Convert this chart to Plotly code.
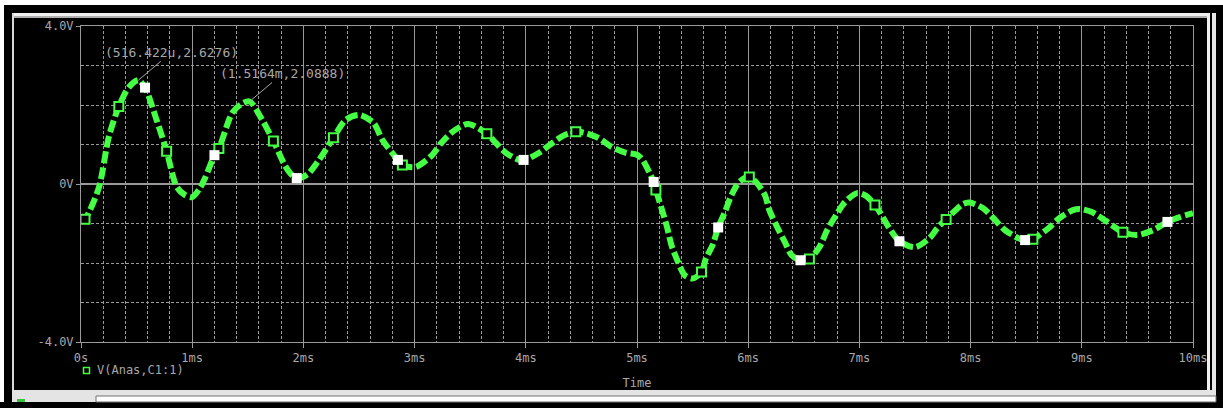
import plotly.graph_objects as go

# ---------------- data (time in ms, voltage in V) ----------------
t_ms = [0.0, 0.036, 0.16, 0.25, 0.34, 0.43, 0.516, 0.576, 0.68, 0.77, 0.86, 0.93, 1.00, 1.07,
        1.12, 1.20, 1.24, 1.36, 1.44, 1.516, 1.63, 1.73, 1.84, 1.90, 1.96, 2.04, 2.14, 2.27,
        2.38, 2.50, 2.63, 2.71, 2.85, 2.89, 3.01, 3.16, 3.24, 3.34, 3.48, 3.65, 3.73, 3.82,
        3.94, 4.00, 4.12, 4.23, 4.35, 4.48, 4.65, 4.77, 4.90, 5.00, 5.05, 5.11, 5.15, 5.17,
        5.22, 5.27, 5.31, 5.37, 5.43, 5.50, 5.58, 5.62, 5.68, 5.73, 5.79, 5.85, 5.92, 6.01,
        6.07, 6.15, 6.19, 6.26, 6.33, 6.39, 6.47, 6.55, 6.64, 6.71, 6.79, 6.87, 6.98, 7.06,
        7.14, 7.20, 7.27, 7.36, 7.50, 7.63, 7.70, 7.78, 7.93, 7.99, 8.11, 8.22, 8.31, 8.50,
        8.56, 8.70, 8.80, 8.92, 8.98, 9.09, 9.22, 9.37, 9.50, 9.64, 9.77, 9.88, 10.0]
v_volts = [-0.95, -0.89, -0.10, 1.19, 1.96, 2.45, 2.6276, 2.44, 1.62, 0.83, -0.07, -0.27, -0.33, -0.10,
           0.18, 0.73, 0.90, 1.80, 2.02, 2.0888, 1.62, 1.09, 0.44, 0.22, 0.15, 0.25, 0.61, 1.17,
           1.62, 1.75, 1.55, 1.12, 0.61, 0.48, 0.43, 0.74, 1.04, 1.32, 1.52, 1.27, 1.04, 0.79,
           0.61, 0.62, 0.79, 1.02, 1.24, 1.32, 1.17, 0.94, 0.79, 0.74, 0.61, 0.30, 0.05, -0.15,
           -0.61, -1.09, -1.55, -1.98, -2.31, -2.39, -2.23, -1.88, -1.55, -1.10, -0.71, -0.28, 0.05, 0.18,
           0.05, -0.28, -0.66, -1.09, -1.47, -1.80, -1.93, -1.90, -1.60, -1.17, -0.79, -0.46, -0.23, -0.30,
           -0.53, -0.79, -1.12, -1.45, -1.60, -1.37, -1.12, -0.89, -0.51, -0.47, -0.61, -0.91, -1.17, -1.45,
           -1.40, -1.12, -0.86, -0.66, -0.63, -0.71, -0.94, -1.22, -1.29, -1.17, -0.96, -0.84, -0.74]

hollow_t = [0.036, 0.34, 0.77, 1.24, 1.73, 2.27, 2.89, 3.65, 4.45, 5.17, 5.58, 6.01, 6.55, 7.14, 7.78, 8.56, 9.37]
hollow_v = [-0.89, 1.96, 0.83, 0.90, 1.09, 1.17, 0.48, 1.27, 1.32, -0.15, -2.23, 0.18, -1.90, -0.53, -0.90, -1.40, -1.22]

white_t = [0.576, 1.20, 1.94, 2.85, 3.98, 5.15, 5.73, 6.47, 7.36, 8.49, 9.77]
white_v = [2.44, 0.73, 0.15, 0.61, 0.61, 0.05, -1.10, -1.93, -1.45, -1.42, -0.96]

cursor_t = [0.516422, 1.5164]
cursor_v = [2.6276, 2.0888]
cursor_labels = ["(516.422u,2.6276)", "(1.5164m,2.0888)"]

x_tickvals = [0, 1, 2, 3, 4, 5, 6, 7, 8, 9, 10]
x_ticktext = ["0s", "1ms", "2ms", "3ms", "4ms", "5ms", "6ms", "7ms", "8ms", "9ms", "10ms"]
y_tickvals = [-4, 0, 4]
y_ticktext = ["-4.0V", "0V", "4.0V"]

trace_name = "V(Anas,C1:1)"

# ---------------- styling ----------------
W, H = 1223, 408
L, T, PW, PH = 81, 26, 1112, 316
GREEN = "#44FF44"
GREY = "#A8A8A8"
GRID = "#9A9A9A"
FONT = "DejaVu Sans Mono"


def px(x):
    return (x - L) / PW


def py(y):
    return (T + PH - y) / PH


fig = go.Figure()

fig.add_trace(go.Scatter(
    x=t_ms, y=v_volts, mode="lines", name=trace_name, showlegend=False,
    line=dict(color=GREEN, width=6, dash="12px,4px", shape="spline", smoothing=0.8),
    hoverinfo="skip"))

fig.add_trace(go.Scatter(
    x=hollow_t, y=hollow_v, mode="markers", showlegend=False,
    marker=dict(symbol="square", size=9, color="#000000", line=dict(color=GREEN, width=2))))

fig.add_trace(go.Scatter(
    x=white_t, y=white_v, mode="markers", showlegend=False,
    marker=dict(symbol="square", size=10, color="#FFFFFF", line=dict(width=0))))

for tx, vy, lab in zip(cursor_t, cursor_v, cursor_labels):
    fig.add_annotation(x=tx, y=vy, text=lab, showarrow=True, arrowhead=0, arrowwidth=1,
                       arrowcolor=GREY, ax=33, ay=-28, standoff=0,
                       font=dict(family=FONT, size=13, color=GREY))

# legend label (drawn as text next to a symbol box)
fig.add_annotation(xref="paper", yref="paper", x=px(95), y=py(370), xanchor="left", yanchor="middle",
                   text=trace_name, showarrow=False, font=dict(family=FONT, size=12, color=GREY))

# window frame decorations (paper coordinates from pixel positions)
shapes = []
def rect(x0, y0, x1, y1, fill=None, line=None, lw=0, layer="below"):
    shapes.append(dict(type="rect", xref="paper", yref="paper",
                       x0=px(x0), x1=px(x1), y0=py(y1), y1=py(y0),
                       fillcolor=fill if fill else "rgba(0,0,0,0)",
                       line=dict(color=line if line else "rgba(0,0,0,0)", width=lw),
                       layer=layer))

rect(0, 0, W, 5, fill="#FFFFFF")
rect(0, 0, 4, 402, fill="#FFFFFF")
rect(12, 13, 1210, 16, fill="#F0F0F0")
rect(12, 16, 1210, 18, fill="#B0B0B0")
rect(12, 13, 14, 391, fill="#D8D8D8")
rect(1207, 13, 1210, 391, fill="#F0F0F0")
rect(1212, 13, 1216, 402, fill="#E8E8E8")
rect(12, 390, 1216, 402, fill="#E4E4E4")
rect(96, 396, 1216, 402, fill="#FFFFFF", line="#707070", lw=1)
rect(17, 399, 25, 402, fill="#40C040")
rect(83.5, 367.5, 89.5, 373.5, fill="#000000", line=GREEN, lw=1.5, layer="above")
fig.update_layout(shapes=shapes)

fig.update_layout(
    width=W, height=H,
    margin=dict(l=L, r=W - L - PW, t=T, b=H - T - PH),
    paper_bgcolor="#000000", plot_bgcolor="#000000",
    font=dict(family=FONT, size=12, color=GREY),
    showlegend=False,
    xaxis=dict(range=[0, 10], tickvals=x_tickvals, ticktext=x_ticktext,
               showgrid=True, gridcolor=GRID, gridwidth=1,
               minor=dict(dtick=0.2, tick0=0, showgrid=True, gridcolor=GRID, griddash="3px,2px"),
               showline=True, linecolor=GRID, linewidth=1, mirror=True,
               ticks="outside", ticklen=5, tickcolor=GRID, zeroline=False,
               title=dict(text="Time", font=dict(family=FONT, size=12, color=GREY), standoff=14),
               tickfont=dict(family=FONT, size=12, color=GREY)),
    yaxis=dict(range=[-4, 4], tickvals=y_tickvals, ticktext=y_ticktext,
               showgrid=True, gridcolor=GRID, gridwidth=1,
               minor=dict(dtick=1, tick0=0, showgrid=True, gridcolor=GRID, griddash="3px,2px"),
               showline=True, linecolor=GRID, linewidth=1, mirror=True,
               ticks="outside", ticklen=4, tickcolor=GRID, zeroline=True, zerolinecolor=GRID,
               tickfont=dict(family=FONT, size=12, color=GREY)),
)

fig.write_html("out.html", config={"displayModeBar": False},
               post_script="document.body.style.margin='0px';document.body.style.overflow='hidden';")
